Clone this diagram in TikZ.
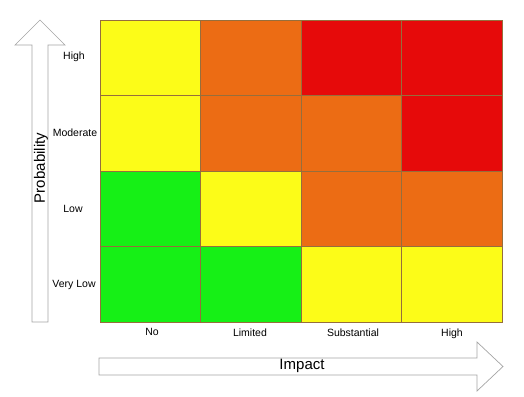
\documentclass[tikz,border=0pt]{standalone}
\usepackage{fontspec}
\setmainfont{Liberation Sans}
\definecolor{ryellow}{RGB}{252,252,24}
\definecolor{rorange}{RGB}{236,108,20}
\definecolor{rred}{RGB}{230,10,10}
\definecolor{rgreen}{RGB}{22,240,22}
\definecolor{gridc}{RGB}{150,110,60}
\definecolor{arrowc}{RGB}{165,165,165}
\begin{document}
\begin{tikzpicture}[x=1pt,y=-1pt,
  cell/.style={draw=gridc,line width=0.6pt,minimum width=100.5pt,minimum height=75.5pt,inner sep=0pt,outer sep=0pt},
  lab/.style={font=\fontsize{10.5}{12}\selectfont,inner sep=0pt},
  axis/.style={font=\fontsize{15}{18}\selectfont,inner sep=0pt},
  bigarrow/.style={draw=arrowc,fill=white,line width=0.7pt,line join=miter}]
\useasboundingbox (0,0) rectangle (524,396);
% grid cells: row r (1 top), column c (1 left)
\foreach \r/\cols in {1/{ryellow,rorange,rred,rred},2/{ryellow,rorange,rorange,rred},3/{rgreen,ryellow,rorange,rorange},4/{rgreen,rgreen,ryellow,ryellow}}{
  \foreach \col [count=\c] in \cols {
    \node[cell,fill=\col] (c\r\c) at ({100+100.5*(\c-0.5)},{20+75.5*(\r-0.5)}) {};
  }
}
% vertical arrow
\draw[bigarrow] (32,322) -- (32,45) -- (15,45) -- (40,20) -- (65,45) -- (48,45) -- (48,322) -- cycle;
\node[axis,rotate=90] (prob) at (41,168) {Probability};
% horizontal arrow
\draw[bigarrow] (99,358) -- (477,358) -- (477,342) -- (503,366.5) -- (477,391) -- (477,375) -- (99,375) -- cycle;
\node[axis] (impact) at (302,366) {Impact};
% row labels
\node[lab] (rHigh) at (74,57) {High};
\node[lab] (rMod) at (75,133) {Moderate};
\node[lab] (rLow) at (73,209) {Low};
\node[lab] (rVLow) at (74,285) {Very Low};
% column labels
\node[lab] (cNo) at (152,332) {No};
\node[lab] (cLim) at (250,333) {Limited};
\node[lab] (cSub) at (353,333) {Substantial};
\node[lab] (cHigh) at (452,334) {High};
\end{tikzpicture}
\end{document}
